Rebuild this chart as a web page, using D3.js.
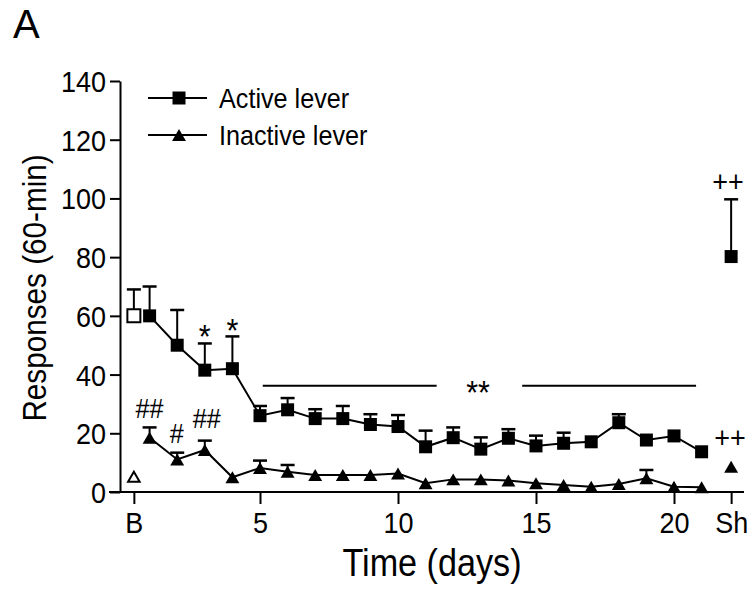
<!DOCTYPE html>
<html><head><meta charset="utf-8">
<script src="https://cdn.jsdelivr.net/npm/d3@7"></script>
<style>body{margin:0;background:#fff}svg{display:block}text{font-family:"Liberation Sans",Arial,sans-serif;fill:#000}</style>
</head><body><svg id="c" width="756" height="600"></svg>
<script>
// ---- data ----
const days = d3.range(1, 22);
const activeMean = [60,50,41.5,42,26,28,25,25,23,22.3,15.4,18.5,14.6,18.3,15.7,16.6,17.1,23.6,17.7,19.1,13.7];
const activeSem  = [10,12,9.1,11,3.3,4,3.2,4.3,3.5,3.9,5.5,3.5,4,3.1,3.5,3.6,0,2.9,0,0,0];
const inactiveMean = [18.5,11.1,14.3,5,8.2,6.9,5.8,5.8,5.8,6.3,3,4.3,4.3,3.9,3,2.4,1.8,2.7,4.7,1.8,1.6];
const inactiveSem  = [3.5,2.3,3.2,0,2.5,2.3,0,0,0,0,0,0,0,0,0,0,0,0,2.8,0,0];
const baselineActive = {mean: 60, sem: 9};
const baselineInactive = {mean: 5.2, sem: 0};
const shamActive = {mean: 80.2, sem: 19.5};
const shamInactive = {mean: 8.6, sem: 0};
const xTickValues = [0.43, 5, 10, 15, 20, 22.07];
const xTickLabels = ["B", "5", "10", "15", "20", "Sh"];
const yTickValues = [0, 20, 40, 60, 80, 100, 120, 140];
const sigBars = [[5.1, 11.4, 36.2], [14.5, 20.8, 36.2]];
const annotations = [
  {t: "*",  x: 3,     y: 49.0, s: 34},
  {t: "*",  x: 4,     y: 51.1, s: 34},
  {t: "**", x: 12.9,  y: 30.0, s: 34},
  {t: "##", x: 1.0,   y: 25.2, s: 28},
  {t: "#",  x: 1.98,  y: 16.7, s: 28},
  {t: "##", x: 3.07,  y: 21.8, s: 28},
  {t: "++", x: 21.96, y: 102.2, s: 30},
  {t: "++", x: 22.03, y: 15.0, s: 30}
];
const legendLabels = ["Active lever", "Inactive lever"];

// ---- setup ----
const svg = d3.select("#c");
const x = d3.scaleLinear().domain([0, 22.5]).range([122, 743]);
const y = d3.scaleLinear().domain([0, 140]).range([492, 81]);
const SX = 0.9;
const axisX0 = 120;

function ctext(g, str, px, py, size, anchor, rot) {
  return g.append("text")
    .attr("transform", `translate(${px},${py})${rot ? " rotate(" + rot + ")" : ""} scale(${SX},1)`)
    .attr("font-size", size).attr("text-anchor", anchor || "middle").text(str);
}

const triType = {draw(ctx, size) {
  const w = Math.sqrt(size) * 1.1, h = w * 0.86;
  ctx.moveTo(0, -h / 2); ctx.lineTo(w / 2, h / 2); ctx.lineTo(-w / 2, h / 2); ctx.closePath();
}};
const sq = d3.symbol().type(d3.symbolSquare).size(169);
const tri = d3.symbol().type(triType).size(160);

// ---- axes ----
const yAxis = d3.axisLeft(y).tickValues(yTickValues).tickSize(10).tickSizeOuter(0).tickPadding(4);
const gy = svg.append("g").attr("transform", `translate(${axisX0},0)`).call(yAxis);
gy.select(".domain").attr("stroke", "#000").attr("stroke-width", 2);
gy.selectAll(".tick line").attr("stroke", "#000").attr("stroke-width", 2);
gy.selectAll(".tick text").attr("font-size", 30).attr("font-family", "Liberation Sans, Arial, sans-serif")
  .attr("fill", "#000").attr("dy", "0.35em")
  .attr("x", -14 / SX).attr("transform", `scale(${SX},1)`);

const xAxis = d3.axisBottom(x).tickValues(xTickValues).tickSize(12).tickSizeOuter(0)
  .tickFormat((d, i) => xTickLabels[i]).tickPadding(8);
const gx = svg.append("g").attr("transform", `translate(0,${y(0)})`).call(xAxis);
gx.select(".domain").remove();
gx.selectAll(".tick line").attr("stroke", "#000").attr("stroke-width", 2);
gx.selectAll(".tick text").attr("font-size", 30).attr("font-family", "Liberation Sans, Arial, sans-serif")
  .attr("fill", "#000").attr("transform", `scale(${SX},1)`);
gx.append("line").attr("x1", 109).attr("x2", 744).attr("y1", 0).attr("y2", 0)
  .attr("stroke", "#000").attr("stroke-width", 2);

// axis titles
ctext(svg, "Time (days)", 432, 576, 38);
ctext(svg, "Responses (60-min)", 46, 288, 33, "middle", -90);
svg.append("text").attr("x", 13).attr("y", 38).attr("font-size", 40).text("A");

// ---- series ----
const active = days.map((d, i) => ({d, m: activeMean[i], e: activeSem[i]}));
const inactive = days.map((d, i) => ({d, m: inactiveMean[i], e: inactiveSem[i]}));
const line = d3.line().x(p => x(p.d)).y(p => y(p.m));
const gData = svg.append("g");

function errBars(data) {
  data.filter(p => p.e > 0).forEach(p => {
    gData.append("line").attr("x1", x(p.d)).attr("x2", x(p.d)).attr("y1", y(p.m)).attr("y2", y(p.m + p.e))
      .attr("stroke", "#000").attr("stroke-width", 2);
    gData.append("line").attr("x1", x(p.d) - 7).attr("x2", x(p.d) + 7).attr("y1", y(p.m + p.e)).attr("y2", y(p.m + p.e))
      .attr("stroke", "#000").attr("stroke-width", 2.5);
  });
}
const allActive = active.concat([{d: xTickValues[0], m: baselineActive.mean, e: baselineActive.sem},
                                 {d: xTickValues[5], m: shamActive.mean, e: shamActive.sem}]);
const allInactive = inactive.concat([{d: xTickValues[5], m: shamInactive.mean, e: shamInactive.sem}]);
errBars(allActive); errBars(allInactive);

gData.append("path").datum(active).attr("d", line).attr("fill", "none").attr("stroke", "#000").attr("stroke-width", 2);
gData.append("path").datum(inactive).attr("d", line).attr("fill", "none").attr("stroke", "#000").attr("stroke-width", 2);

// markers
gData.append("path").attr("d", sq).attr("transform", `translate(${x(xTickValues[0])},${y(baselineActive.mean)})`)
  .attr("fill", "#fff").attr("stroke", "#000").attr("stroke-width", 2);
gData.append("path").attr("d", d3.symbol().type(triType).size(110)).attr("transform", `translate(${x(xTickValues[0])},${y(baselineInactive.mean)})`)
  .attr("fill", "#fff").attr("stroke", "#000").attr("stroke-width", 2);
gData.selectAll(".sqm").data(active.concat([{d: xTickValues[5], m: shamActive.mean}])).enter().append("path")
  .attr("d", sq).attr("transform", p => `translate(${x(p.d)},${y(p.m)})`).attr("fill", "#000");
gData.selectAll(".trm").data(allInactive).enter().append("path")
  .attr("d", tri).attr("transform", p => `translate(${x(p.d)},${y(p.m)})`).attr("fill", "#000");

// significance bars and annotations
sigBars.forEach(b => {
  svg.append("line").attr("x1", x(b[0])).attr("x2", x(b[1])).attr("y1", y(b[2])).attr("y2", y(b[2]))
    .attr("stroke", "#000").attr("stroke-width", 2);
});
annotations.forEach(a => ctext(svg, a.t, x(a.x), y(a.y), a.s));

// ---- legend ----
const legY = [98, 135];
legendLabels.forEach((lab, i) => {
  const g = svg.append("g");
  g.append("line").attr("x1", 148).attr("x2", 207).attr("y1", legY[i]).attr("y2", legY[i])
    .attr("stroke", "#000").attr("stroke-width", 2);
  g.append("path").attr("d", i === 0 ? sq : tri).attr("transform", `translate(179,${legY[i]})`).attr("fill", "#000");
  ctext(g, lab, 219, legY[i] + 10, 28, "start");
});
</script></body></html>
